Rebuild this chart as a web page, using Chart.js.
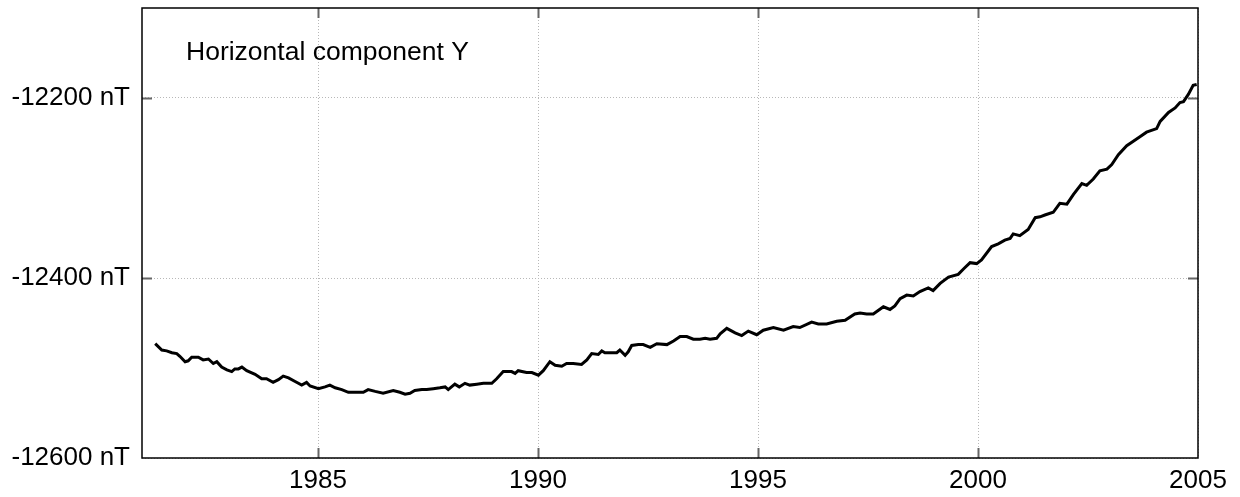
<!DOCTYPE html>
<html>
<head>
<meta charset="utf-8">
<script src="https://cdn.jsdelivr.net/npm/chart.js@4/dist/chart.umd.min.js"></script>
<style>
  body { margin: 0; background: #fff; }
  #wrap { width: 1240px; height: 497px; position: relative; }
</style>
</head>
<body>
<div id="wrap"><canvas id="chart"></canvas></div>
<script>
// readings: decimal year and Y component in nT
const years = [
  1981.30, 1981.45, 1981.56, 1981.68, 1981.79, 1981.86, 1981.98, 1982.05, 1982.13, 1982.20,
  1982.28, 1982.39, 1982.51, 1982.62, 1982.70, 1982.81, 1982.93, 1983.04, 1983.11, 1983.19,
  1983.27, 1983.38, 1983.57, 1983.72, 1983.83, 1983.98, 1984.10, 1984.21, 1984.33, 1984.48,
  1984.63, 1984.74, 1984.82, 1985.01, 1985.16, 1985.27, 1985.39, 1985.54, 1985.69, 1985.88,
  1986.03, 1986.14, 1986.30, 1986.48, 1986.71, 1986.86, 1986.98, 1987.09, 1987.20, 1987.36,
  1987.47, 1987.62, 1987.77, 1987.89, 1987.96, 1988.11, 1988.21, 1988.34, 1988.45, 1988.61,
  1988.76, 1988.95, 1989.06, 1989.21, 1989.40, 1989.48, 1989.55, 1989.74, 1989.86, 1990.01,
  1990.12, 1990.27, 1990.39, 1990.54, 1990.65, 1990.80, 1990.99, 1991.11, 1991.22, 1991.37,
  1991.45, 1991.52, 1991.68, 1991.79, 1991.86, 1991.98, 1992.05, 1992.13, 1992.28, 1992.39,
  1992.55, 1992.70, 1992.93, 1993.08, 1993.23, 1993.38, 1993.53, 1993.68, 1993.80, 1993.91,
  1994.06, 1994.14, 1994.29, 1994.48, 1994.63, 1994.78, 1994.97, 1995.12, 1995.35, 1995.58,
  1995.80, 1995.95, 1996.22, 1996.37, 1996.56, 1996.79, 1996.98, 1997.20, 1997.32, 1997.47,
  1997.62, 1997.85, 1998.00, 1998.11, 1998.23, 1998.38, 1998.53, 1998.68, 1998.87, 1998.98,
  1999.14, 1999.33, 1999.55, 1999.67, 1999.82, 1999.97, 2000.08, 2000.31, 2000.46, 2000.61,
  2000.73, 2000.80, 2000.95, 2001.14, 2001.30, 2001.41, 2001.52, 2001.71, 2001.86, 2002.02,
  2002.17, 2002.36, 2002.47, 2002.62, 2002.77, 2002.93, 2003.04, 2003.19, 2003.38, 2003.53,
  2003.68, 2003.83, 2004.06, 2004.14, 2004.33, 2004.48, 2004.59, 2004.67, 2004.78, 2004.89,
  2004.97
];
const values = [
  -12473, -12480, -12481, -12483, -12484, -12487, -12493, -12492, -12488, -12488,
  -12488, -12491, -12490, -12495, -12493, -12499, -12502, -12504, -12501, -12501,
  -12499, -12503, -12507, -12512, -12512, -12516, -12513, -12509, -12511, -12515,
  -12519, -12516, -12520, -12523, -12521, -12519, -12522, -12524, -12527, -12527,
  -12527, -12524, -12526, -12528, -12525, -12527, -12529, -12528, -12525, -12524,
  -12524, -12523, -12522, -12521, -12524, -12518, -12521, -12517, -12519, -12518,
  -12517, -12517, -12512, -12504, -12504, -12506, -12503, -12505, -12505, -12508,
  -12503, -12493, -12497, -12498, -12495, -12495, -12496, -12491, -12484, -12485,
  -12481, -12483, -12483, -12483, -12480, -12486, -12482, -12475, -12474, -12474,
  -12477, -12473, -12474, -12470, -12465, -12465, -12468, -12468, -12467, -12468,
  -12467, -12462, -12456, -12461, -12464, -12459, -12463, -12458, -12455, -12458,
  -12454, -12455, -12449, -12451, -12451, -12448, -12447, -12440, -12439, -12440,
  -12440, -12432, -12435, -12431, -12423, -12419, -12420, -12415, -12411, -12414,
  -12406, -12399, -12396, -12390, -12383, -12384, -12380, -12365, -12362, -12358,
  -12356, -12351, -12353, -12346, -12333, -12332, -12330, -12327, -12317, -12318,
  -12307, -12295, -12297, -12290, -12281, -12279, -12274, -12263, -12253, -12248,
  -12243, -12238, -12234, -12226, -12216, -12211, -12205, -12204, -12196, -12186,
  -12185
];

const yearTicks = [1985, 1990, 1995, 2000, 2005];
const nTTicks = [-12600, -12400, -12200];
const label = 'Horizontal component Y';

const fontFamily = '"Liberation Sans", Arial, sans-serif';

// frame round the plot, inward tick marks on all four sides, and the label
const framePlugin = {
  id: 'frame',
  afterDraw(chart) {
    const { ctx, chartArea: a, scales } = chart;
    ctx.save();
    ctx.strokeStyle = '#666';
    ctx.lineWidth = 2;
    ctx.beginPath();
    scales.x.ticks.forEach(t => {
      if (t.value <= scales.x.min || t.value >= scales.x.max) return;
      const px = Math.round(scales.x.getPixelForValue(t.value)) + 0.5;
      ctx.moveTo(px, a.bottom); ctx.lineTo(px, a.bottom - 10);
      ctx.moveTo(px, a.top); ctx.lineTo(px, a.top + 10);
    });
    scales.y.ticks.forEach(t => {
      if (t.value <= scales.y.min || t.value >= scales.y.max) return;
      const py = Math.round(scales.y.getPixelForValue(t.value)) + 0.5;
      ctx.moveTo(a.left, py); ctx.lineTo(a.left + 10, py);
      ctx.moveTo(a.right, py); ctx.lineTo(a.right - 10, py);
    });
    ctx.stroke();

    ctx.strokeStyle = '#000';
    ctx.lineWidth = 1.5;
    ctx.strokeRect(a.left, a.top, a.right - a.left, a.bottom - a.top);

    ctx.fillStyle = '#000';
    ctx.font = '26.5px ' + fontFamily;
    ctx.textBaseline = 'middle';
    ctx.textAlign = 'left';
    ctx.fillText(label, scales.x.getPixelForValue(1982), scales.y.getPixelForValue(-12150));
    ctx.restore();
  }
};

const ctx = document.getElementById('chart').getContext('2d');
new Chart(ctx, {
  type: 'line',
  data: {
    datasets: [{
      data: years.map((yr, i) => ({ x: yr, y: values[i] })),
      borderColor: '#000',
      borderWidth: 3,
      pointRadius: 0,
      tension: 0,
      fill: false
    }]
  },
  options: {
    responsive: true,
    maintainAspectRatio: false,
    animation: false,
    layout: { padding: { top: 8, right: 42, left: 0, bottom: 0 } },
    plugins: { legend: { display: false }, tooltip: { enabled: false } },
    scales: {
      x: {
        type: 'linear',
        min: 1981,
        max: 2005,
        afterBuildTicks: s => { s.ticks = yearTicks.map(v => ({ value: v })); },
        afterFit: s => { s.height = 39; s.paddingLeft = 0; s.paddingRight = 0; },
        ticks: {
          color: '#000',
          font: { family: fontFamily, size: 26 },
          padding: 7,
          maxRotation: 0,
          autoSkip: false,
          callback: v => String(v)
        },
        grid: { color: '#b8b8b8', lineWidth: 1, drawTicks: false },
        border: { display: false, dash: [1, 2] }
      },
      y: {
        min: -12600,
        max: -12100,
        afterBuildTicks: s => { s.ticks = nTTicks.map(v => ({ value: v })); },
        afterFit: s => { s.width = 142; s.paddingTop = 0; s.paddingBottom = 0; },
        ticks: {
          color: '#000',
          font: { family: fontFamily, size: 26 },
          padding: 12,
          autoSkip: false,
          callback: v => v + ' nT'
        },
        grid: { color: '#b8b8b8', lineWidth: 1, drawTicks: false },
        border: { display: false, dash: [1, 2] }
      }
    }
  },
  plugins: [framePlugin]
});
</script>
</body>
</html>
